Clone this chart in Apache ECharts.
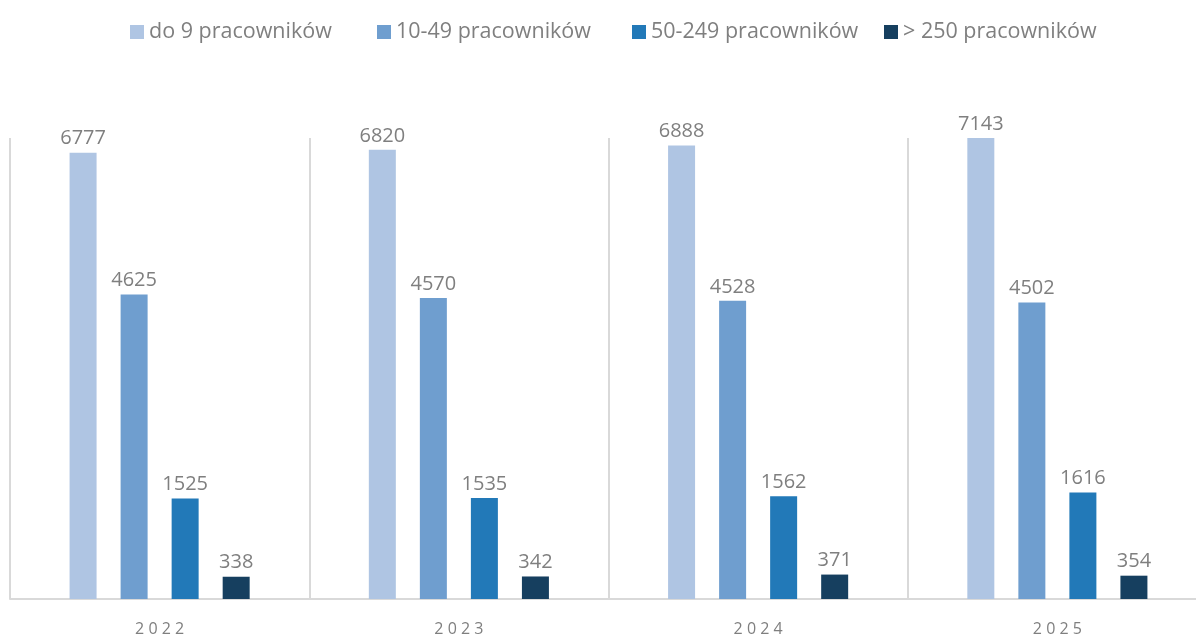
<!DOCTYPE html>
<html>
<head>
<meta charset="utf-8">
<script src="https://cdn.jsdelivr.net/npm/echarts@6/dist/echarts.min.js"></script>
<style>
  html, body { margin: 0; padding: 0; background: #ffffff; overflow: hidden; }
  #chart { width: 1207px; height: 637px; }
</style>
</head>
<body>
<div id="chart"></div>
<script>
// Firms by employment size, per year
const years = ['2022', '2023', '2024', '2025'];
const seriesNames = ['do 9 pracowników', '10-49 pracowników', '50-249 pracowników', '> 250 pracowników'];
const micro = [6777, 6820, 6888, 7143];
const small = [4625, 4570, 4528, 4502];
const medium = [1525, 1535, 1562, 1616];
const large = [338, 342, 371, 354];
const colors = ['#afc5e3', '#6f9ecf', '#2279b8', '#163f5f'];

const textColor = '#7f7f7f';
const font = '"Open Sans", Lato, sans-serif';

// Legend entries sit in evenly spaced slots across the top
const legendLeft = [125, 372, 627, 879];

const chart = echarts.init(document.getElementById('chart'));

const makeSeries = (name, data, color) => ({
  name: name,
  type: 'bar',
  data: data,
  barWidth: 27,
  barGap: '89%',
  itemStyle: { color: color },
  label: {
    show: true,
    position: 'top',
    distance: 4,
    color: textColor,
    fontFamily: font,
    fontSize: 20
  }
});

chart.setOption({
  animation: false,
  color: colors,
  legend: seriesNames.map((name, i) => ({
    top: 16,
    left: legendLeft[i],
    itemWidth: 14,
    itemHeight: 14,
    icon: 'rect',
    textStyle: { color: textColor, fontFamily: font, fontSize: 21.5 },
    data: [name]
  })),
  grid: { left: 10, top: 138, right: 0, bottom: 38, containLabel: false },
  xAxis: {
    type: 'category',
    data: years,
    axisTick: { show: false },
    axisLine: { lineStyle: { color: '#d9d9d9', width: 2 } },
    splitLine: { show: true, lineStyle: { color: '#d9d9d9', width: 2 } },
    axisLabel: {
      color: textColor,
      fontFamily: font,
      fontSize: 16,
      margin: 22,
      formatter: (v) => v.split('').join(' ')
    }
  },
  yAxis: {
    type: 'value',
    min: 0,
    max: 7000,
    show: false,
    splitLine: { show: false }
  },
  series: [
    makeSeries(seriesNames[0], micro, colors[0]),
    makeSeries(seriesNames[1], small, colors[1]),
    makeSeries(seriesNames[2], medium, colors[2]),
    makeSeries(seriesNames[3], large, colors[3])
  ]
});
</script>
</body>
</html>
